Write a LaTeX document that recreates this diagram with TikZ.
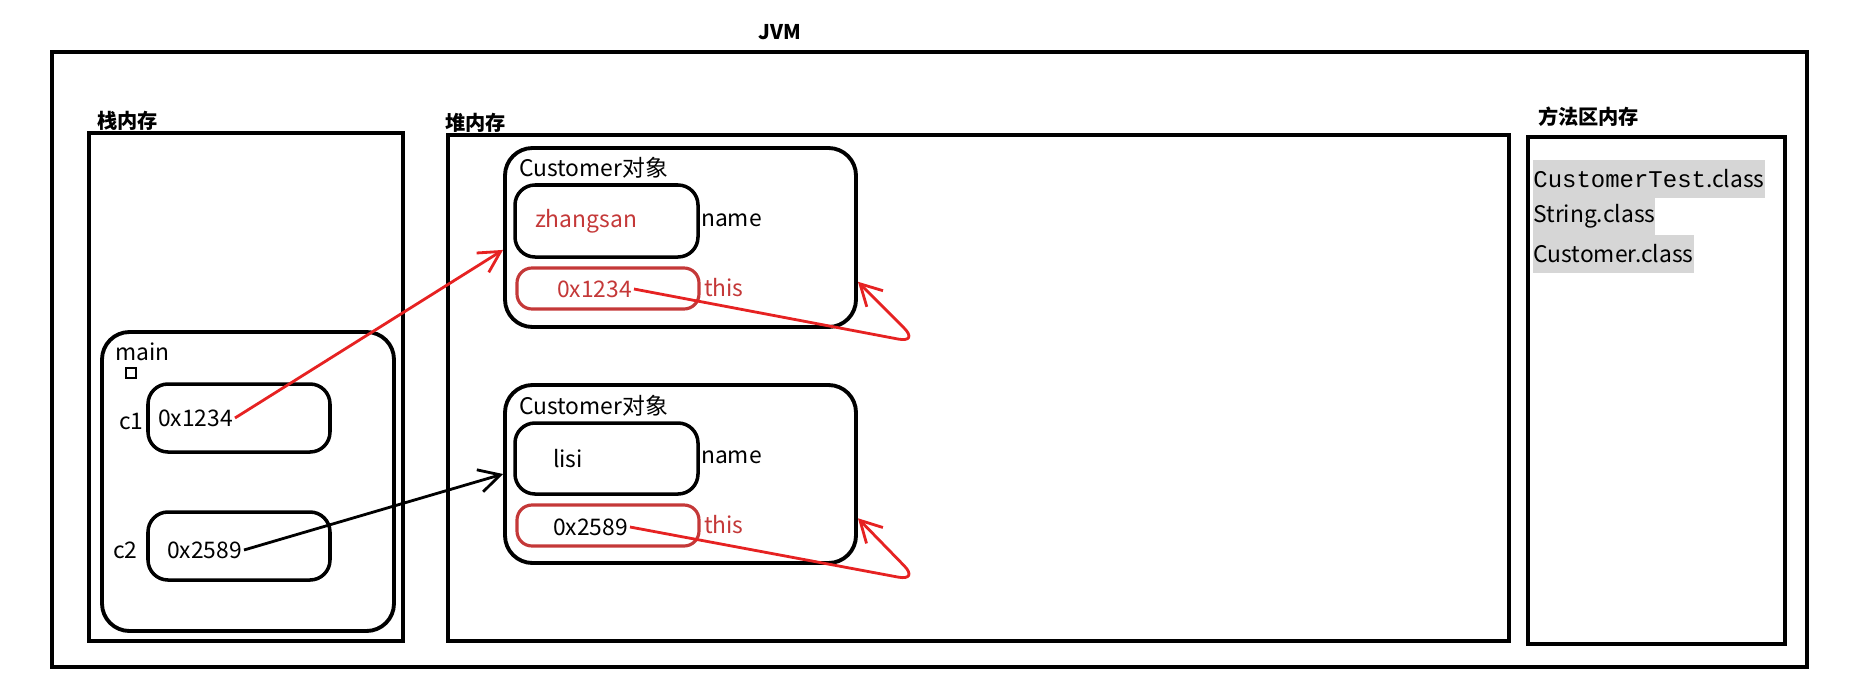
\documentclass[tikz,border=0pt]{standalone}
\usepackage{fontspec}
\setmainfont{Noto Sans CJK SC}
\newfontfamily\codefont[Scale=1.05]{Liberation Mono}
\usepackage{xcolor}
\usetikzlibrary{fit,arrows.meta}
\definecolor{refred}{RGB}{196,56,56}
\definecolor{arrowred}{RGB}{230,34,34}
\definecolor{hlgray}{RGB}{214,214,214}

\begin{document}
\begin{tikzpicture}[x=0.02cm,y=-0.02cm]
\tikzset{
    txt/.style={inner sep=1pt, anchor=west, font=\fontsize{13}{15}\selectfont},
    title/.style={txt, font=\fontsize{11.5}{14}\selectfont\bfseries},
    area/.style={draw, line width=2.2pt, inner sep=0pt},
    frame/.style={area, rounded corners=0.55cm},
    slot/.style={area, line width=2pt, rounded corners=0.4cm},
    refslot/.style={draw=refred, line width=1.8pt, inner sep=0pt, rounded corners=0.3cm},
    link/.style={line width=1.6pt, -{Straight Barb[length=12pt,width=13pt]}},
    classline/.style={txt, inner xsep=0pt, fill=hlgray, minimum height=0.76cm}
}
\useasboundingbox (0,0) rectangle (1862,687);

\node[area, fit={(52,52) (1807,667)}] (jvm) {};
\node[title, anchor=center] (jvmlabel) at (780,32) {JVM};

\node[area, fit={(89,133) (403,641)}] (stack) {};
\node[title] (stacklabel) at (95,121) {栈内存};
\node[area, fit={(448,135) (1509,641)}] (heap) {};
\node[title] (heaplabel) at (443,123) {堆内存};
\node[area, fit={(1528,137) (1785,644)}] (method) {};
\node[title] (methodlabel) at (1536,117) {方法区内存};

\node[frame, fit={(102,332) (394,631)}] (mainframe) {};
\node[txt] (mainlabel) at (113,352) {main};
\node[draw, line width=0.8pt, minimum size=0.2cm, inner sep=0pt] (mark) at (131,373) {};
\node[slot, fit={(148,384) (330,452)}] (c1box) {};
\node[txt] (c1) at (117,421) {c1};
\node[txt] (val1) at (156,418) {0x1234};
\node[slot, fit={(148,512) (330,580)}] (c2box) {};
\node[txt] (c2) at (111,550) {c2};
\node[txt] (val2) at (165,550) {0x2589};

\node[frame, fit={(505,148) (856,327)}] (obj1) {};
\node[txt] (obj1label) at (517,168) {Customer对象};
\node[slot, fit={(515,185) (698,257)}] (name1box) {};
\node[txt, text=refred] (name1val) at (533,221) {zhangsan};
\node[txt] (name1) at (699,220) {name};
\node[refslot, fit={(517,268) (699,309)}] (this1box) {};
\node[txt, text=refred] (ref1) at (555,289) {0x1234};
\node[txt, text=refred] (this1) at (702,288) {this};

\node[frame, fit={(505,385) (856,563)}] (obj2) {};
\node[txt] (obj2label) at (517,406) {Customer对象};
\node[slot, fit={(515,423) (698,494)}] (name2box) {};
\node[txt] (name2val) at (551,459) {lisi};
\node[txt] (name2) at (699,457) {name};
\node[refslot, fit={(517,505) (699,546)}] (this2box) {};
\node[txt] (ref2) at (551,527) {0x2589};
\node[txt, text=refred] (this2) at (702,525) {this};

\node[classline] (cls1) at (1533,179) {{\codefont CustomerTest}.class};
\node[classline] (cls2) at (1533,216) {String.class};
\node[classline] (cls3) at (1533,254) {Customer.class};

\coordinate (bend1) at (919,343);
\coordinate (bend2) at (919,581);

\draw[link, arrowred] (val1.east) -- (obj1.184);
\draw[link, black] (val2.east) -- (obj2.west);
\draw[link, arrowred, rounded corners=12pt] (ref1.east) -- (bend1) -- (obj1.346);
\draw[link, arrowred, rounded corners=12pt] (ref2.east) -- (bend2) -- (obj2.346);

\end{tikzpicture}
\end{document}
